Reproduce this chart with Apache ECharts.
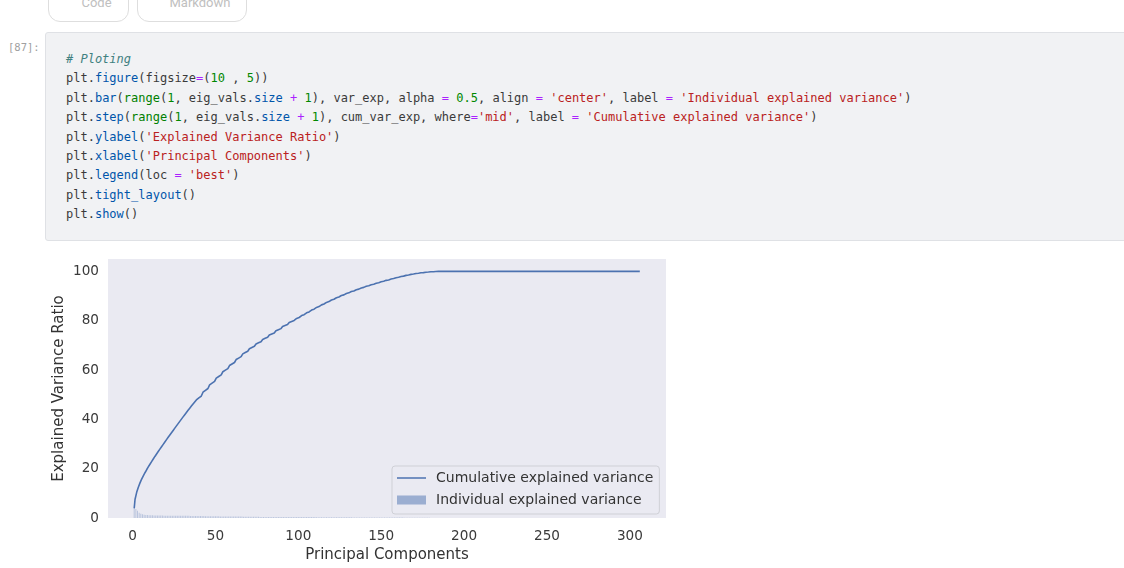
<!DOCTYPE html>
<html>
<head>
<meta charset="utf-8">
<script src="https://cdn.jsdelivr.net/npm/echarts@6/dist/echarts.min.js"></script>
<style>
body { margin: 0; width: 1124px; height: 568px; background: #fff; overflow: hidden; position: relative; }
.btn { position: absolute; top: -12px; height: 34px; box-sizing: border-box; border: 1px solid #dedede; border-radius: 12px;
       background: #fff; color: #c0c0c0; font: 13px Roboto, sans-serif; line-height: 27px; text-align: center; overflow: hidden; }
.prompt { position: absolute; left: 8px; top: 41px; font: 10.5px 'DejaVu Sans Mono', monospace; color: #a0a0a0; }
.cell { position: absolute; left: 45px; top: 32px; width: 1110px; height: 209px; box-sizing: border-box;
        background: #f1f2f4; border: 1px solid #dfe1e5; border-radius: 3px; }
pre { position: absolute; left: 66px; top: 50px; margin: 0; font: 12px 'DejaVu Sans Mono', monospace; line-height: 19.4px; color: #3a3a3a; }
.c { color: #408080; font-style: italic; }
.p { color: #0055aa; }
.o { color: #aa22ff; }
.n { color: #008800; }
.b { color: #008000; }
.s { color: #ba2121; }
#chart { position: absolute; left: 0; top: 245px; width: 700px; height: 323px; }
</style>
</head>
<body>
<div class="btn" style="left:48px;width:81px;padding-left:16px;">Code</div>
<div class="btn" style="left:137px;width:110px;padding-left:16px;">Markdown</div>
<div class="prompt">[87]:</div>
<div class="cell"></div>
<pre><span class="c"># Ploting</span>
plt.<span class="p">figure</span>(figsize<span class="o">=</span>(<span class="n">10</span> , <span class="n">5</span>))
plt.<span class="p">bar</span>(<span class="b">range</span>(<span class="n">1</span>, eig_vals.<span class="p">size</span> <span class="o">+</span> <span class="n">1</span>), var_exp, alpha <span class="o">=</span> <span class="n">0.5</span>, align <span class="o">=</span> <span class="s">'center'</span>, label <span class="o">=</span> <span class="s">'Individual explained variance'</span>)
plt.<span class="p">step</span>(<span class="b">range</span>(<span class="n">1</span>, eig_vals.<span class="p">size</span> <span class="o">+</span> <span class="n">1</span>), cum_var_exp, where<span class="o">=</span><span class="s">'mid'</span>, label <span class="o">=</span> <span class="s">'Cumulative explained variance'</span>)
plt.<span class="p">ylabel</span>(<span class="s">'Explained Variance Ratio'</span>)
plt.<span class="p">xlabel</span>(<span class="s">'Principal Components'</span>)
plt.<span class="p">legend</span>(loc <span class="o">=</span> <span class="s">'best'</span>)
plt.<span class="p">tight_layout</span>()
plt.<span class="p">show</span>()</pre>
<div id="chart"></div>
<script>
// individual explained variance (%) per principal component
const var_exp = [
  3.9, 3.6, 2.9, 2.1,
  1.75, 1.5, 1.35, 1.25, 1.2, 1.15,
  1.1, 1.08, 1.05, 1.03, 1.0, 0.99, 0.98, 0.97, 0.96, 0.95,
  0.95, 0.94, 0.94, 0.93, 0.93, 0.93, 0.92, 0.92, 0.91, 0.91, 0.90,
  0.90, 0.89, 0.88, 0.86, 0.85, 0.84, 0.83, 0.82, 0.80, 0.79, 0.78,
  0.77, 0.76, 0.74, 0.73, 0.72, 0.71, 0.70, 0.68, 0.67, 0.66, 0.65,
  0.65, 0.64, 0.64, 0.63, 0.62, 0.62, 0.61, 0.61, 0.60, 0.60, 0.59, 0.59,
  0.56, 0.55, 0.54, 0.53, 0.52, 0.51, 0.50, 0.49, 0.48, 0.47, 0.46, 0.45,
  0.45, 0.45, 0.45, 0.45, 0.44, 0.44, 0.44, 0.44, 0.44, 0.43, 0.43, 0.43, 0.43, 0.43, 0.42, 0.42, 0.42,
  0.41, 0.40, 0.40, 0.40, 0.39, 0.39, 0.39, 0.38, 0.38, 0.38, 0.38, 0.37, 0.37, 0.37,
  0.36, 0.36, 0.35, 0.35, 0.34, 0.34, 0.34, 0.33, 0.33, 0.33, 0.32, 0.32, 0.32, 0.31, 0.30, 0.30,
  0.29, 0.29, 0.28, 0.28, 0.27, 0.27, 0.26, 0.26, 0.25, 0.25, 0.25, 0.24, 0.24,
  0.23, 0.23, 0.23, 0.22, 0.22, 0.21, 0.21, 0.21, 0.20, 0.20, 0.20, 0.19, 0.19,
  0.19, 0.19, 0.19, 0.18, 0.18, 0.18, 0.18, 0.17, 0.17, 0.17, 0.17, 0.16,
  0.16, 0.15, 0.15, 0.14, 0.14, 0.13, 0.12, 0.12, 0.11, 0.10, 0.09, 0.09,
  0.08, 0.08, 0.07, 0.07, 0.06, 0.05, 0.05, 0.04, 0.04, 0.03, 0.02, 0.01, 0, 0,
  0, 0, 0, 0, 0, 0, 0, 0, 0, 0, 0, 0, 0, 0, 0, 0, 0, 0, 0, 0,
  0, 0, 0, 0, 0, 0, 0, 0, 0, 0, 0, 0, 0, 0, 0, 0, 0, 0, 0, 0,
  0, 0, 0, 0, 0, 0, 0, 0, 0, 0, 0, 0, 0, 0, 0, 0, 0, 0, 0, 0,
  0, 0, 0, 0, 0, 0, 0, 0, 0, 0, 0, 0, 0, 0, 0, 0, 0, 0, 0, 0,
  0, 0, 0, 0, 0, 0, 0, 0, 0, 0, 0, 0, 0, 0, 0, 0, 0, 0, 0, 0,
  0, 0, 0, 0, 0, 0, 0, 0, 0, 0, 0, 0, 0, 0, 0, 0, 0, 0
];
const xTicks = [0, 50, 100, 150, 200, 250, 300];
const yTicks = [0, 20, 40, 60, 80, 100];

// range(1, eig_vals.size + 1) and np.cumsum(var_exp)
const components = var_exp.map((v, i) => i + 1);
const cum_var_exp = [];
let running = 0;
var_exp.forEach(v => { running += v; cum_var_exp.push(+running.toFixed(2)); });

const blue = '#4c72b0';
const font = 'DejaVu Sans';

let chart = echarts.init(document.getElementById('chart'));
chart.setOption({
    animation: false,
    textStyle: { fontFamily: font },
    grid: {
        left: 108, top: 14, width: 558, height: 262,
        show: true, backgroundColor: '#eaeaf2', borderWidth: 0
    },
    xAxis: {
        type: 'value', min: -14.8, max: 321.8,
        name: 'Principal Components', nameLocation: 'middle', nameGap: 30, nameMoveOverlap: false,
        nameTextStyle: { fontSize: 15, color: '#333', fontFamily: font },
        axisLine: { show: false }, axisTick: { show: false }, splitLine: { show: false },
        axisLabel: { customValues: xTicks, margin: 11, fontSize: 13.6, color: '#3a3a3a', fontFamily: font }
    },
    yAxis: {
        type: 'value', min: 0, max: 105,
        name: 'Explained Variance Ratio', nameLocation: 'middle', nameGap: 41, nameRotate: 90, nameMoveOverlap: false,
        nameTextStyle: { fontSize: 15, color: '#333', fontFamily: font },
        axisLine: { show: false }, axisTick: { show: false }, splitLine: { show: false },
        axisLabel: { customValues: yTicks, margin: 9, fontSize: 13.6, color: '#3a3a3a', fontFamily: font }
    },
    legend: {
        orient: 'vertical', left: 392, top: 221,
        data: [
            { name: 'Cumulative explained variance', icon: 'path://M0,0 H29 V1.5 H0 Z' },
            { name: 'Individual explained variance', icon: 'rect', itemStyle: { color: 'rgba(76,114,176,0.5)' } }
        ],
        symbolKeepAspect: true,
        itemWidth: 29, itemHeight: 9, itemGap: 6,
        padding: [4, 6, 6, 5],
        backgroundColor: '#eaeaf2', borderColor: '#cfd0d6', borderWidth: 1, borderRadius: 3,
        textStyle: { fontSize: 14, color: '#333', lineHeight: 16, padding: [0, 0, 0, 5], fontFamily: font }
    },
    series: [{
        type: 'bar',
        name: 'Individual explained variance',
        barWidth: 1,
        itemStyle: { color: 'rgba(76,114,176,0.3)' },
        data: components.map((c, i) => [c, var_exp[i]])
    },
    {
        type: 'line',
        name: 'Cumulative explained variance',
        step: 'middle',
        symbol: 'none',
        z: 3,
        lineStyle: { color: blue, width: 1.6 },
        itemStyle: { color: blue },
        data: components.map((c, i) => [c, cum_var_exp[i]])
    }]
});
</script>
</body>
</html>
